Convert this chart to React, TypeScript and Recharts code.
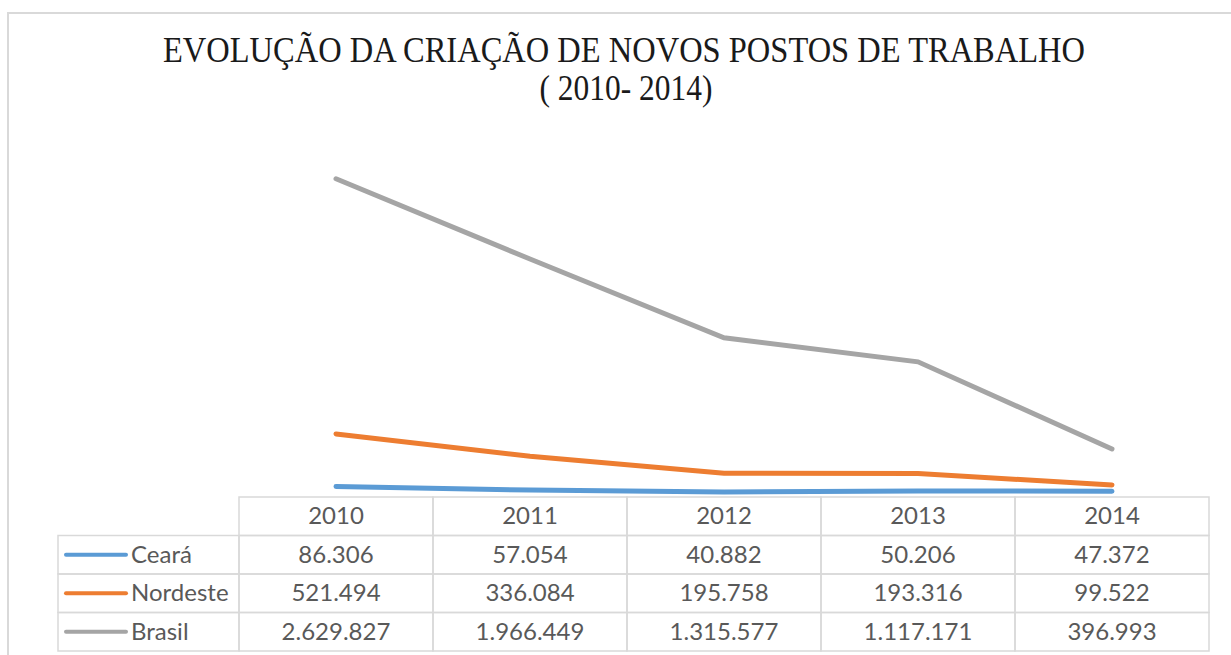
import React from 'react';
import { LineChart, Line, XAxis, YAxis } from 'recharts';

const years = ['2010', '2011', '2012', '2013', '2014'];
const ceara = [86306, 57054, 40882, 50206, 47372];
const nordeste = [521494, 336084, 195758, 193316, 99522];
const brasil = [2629827, 1966449, 1315577, 1117171, 396993];

const seriesKeys = ['ceara', 'nordeste', 'brasil'];
const seriesNames = ['Ceará', 'Nordeste', 'Brasil'];
const seriesColors = ['#5B9BD5', '#ED7D31', '#A5A5A5'];
const seriesValues = [ceara, nordeste, brasil];

const titleLines = ['EVOLUÇÃO DA CRIAÇÃO DE NOVOS POSTOS DE TRABALHO', '( 2010- 2014)'];

const data = years.map((year, i) => ({
  year,
  ceara: ceara[i],
  nordeste: nordeste[i],
  brasil: brasil[i],
}));

// layout
const W = 1231;
const H = 655;
const plotLeft = 239;
const plotRight = 1209;
const plotTop = 134;
const plotBottom = 497;
const colW = (plotRight - plotLeft) / years.length;
const rowH = 38.5;
const legendLeft = 58;
const gridColor = '#d9d9d9';
const textColor = '#595959';
const tableFont = 'Lato, "Open Sans", sans-serif';
const tableFontSize = 24;

const fmt = (v: number) => String(v).replace(/\B(?=(\d{3})+(?!\d))/g, '.');

const TableTick = (props: any) => {
  const { x, y, payload, index } = props;
  const i = years.indexOf(payload.value);
  const left = x - colW / 2;
  const cells = [];
  // year header + values
  for (let r = 0; r < 4; r++) {
    const top = y + r * rowH;
    const label = r === 0 ? payload.value : fmt(seriesValues[r - 1][i]);
    cells.push(
      <g key={`c-${r}`}>
        <rect x={left} y={top} width={colW} height={rowH} fill="none" stroke={gridColor} strokeWidth={1.5} />
        <text x={x} y={top + rowH / 2 + 8} textAnchor="middle" fill={textColor} fontSize={tableFontSize} fontFamily={tableFont}>
          {label}
        </text>
      </g>
    );
  }
  // legend column beside the first category
  if (index === 0) {
    const lw = left - legendLeft;
    seriesNames.forEach((name, s) => {
      const top = y + (s + 1) * rowH;
      const cy = top + rowH / 2;
      cells.push(
        <g key={`l-${s}`}>
          <rect x={legendLeft} y={top} width={lw} height={rowH} fill="none" stroke={gridColor} strokeWidth={1.5} />
          <line x1={legendLeft + 8} x2={legendLeft + 68} y1={cy} y2={cy} stroke={seriesColors[s]} strokeWidth={4} strokeLinecap="round" />
          <text x={legendLeft + 73} y={cy + 8} textAnchor="start" fill={textColor} fontSize={tableFontSize} fontFamily={tableFont}>
            {name}
          </text>
        </g>
      );
    });
  }
  return <g>{cells}</g>;
};

export default function App() {
  return (
    <div style={{ position: 'absolute', left: 0, top: 0, width: W, height: H, overflow: 'hidden', background: '#fff' }}>
      <div
        style={{
          position: 'absolute',
          left: 7,
          top: 12,
          width: W + 50,
          height: H + 50,
          border: `2px solid ${gridColor}`,
        }}
      />
      <svg width={W} height={120} style={{ position: 'absolute', left: 0, top: 0 }}>
        <text
          x={624}
          y={62}
          textAnchor="middle"
          fontFamily='"Liberation Serif", "Times New Roman", serif'
          fontSize={35}
          fill="#1a1a1a"
          textLength={922}
          lengthAdjust="spacingAndGlyphs"
        >
          {titleLines[0]}
        </text>
        <text
          x={626}
          y={100}
          textAnchor="middle"
          fontFamily='"Liberation Serif", "Times New Roman", serif'
          fontSize={35}
          fill="#1a1a1a"
          textLength={173}
          lengthAdjust="spacingAndGlyphs"
        >
          {titleLines[1]}
        </text>
      </svg>
      <div style={{ position: 'absolute', left: 0, top: 0 }}>
        <LineChart
          width={W}
          height={H}
          data={data}
          margin={{ top: plotTop, right: W - plotRight, left: plotLeft, bottom: 4 }}
        >
          <XAxis
            dataKey="year"
            height={H - 4 - plotBottom}
            axisLine={false}
            tickLine={false}
            tickSize={0}
            tickMargin={0}
            interval={0}
            padding={{ left: colW / 2, right: colW / 2 }}
            tick={<TableTick />}
          />
          <YAxis hide width={0} domain={[0, 3000000]} />
          {seriesKeys.map((k, s) => (
            <Line
              key={k}
              type="linear"
              dataKey={k}
              name={seriesNames[s]}
              stroke={seriesColors[s]}
              strokeWidth={5}
              strokeLinecap="round"
              dot={false}
              activeDot={false}
              isAnimationActive={false}
            />
          ))}
        </LineChart>
      </div>
    </div>
  );
}
